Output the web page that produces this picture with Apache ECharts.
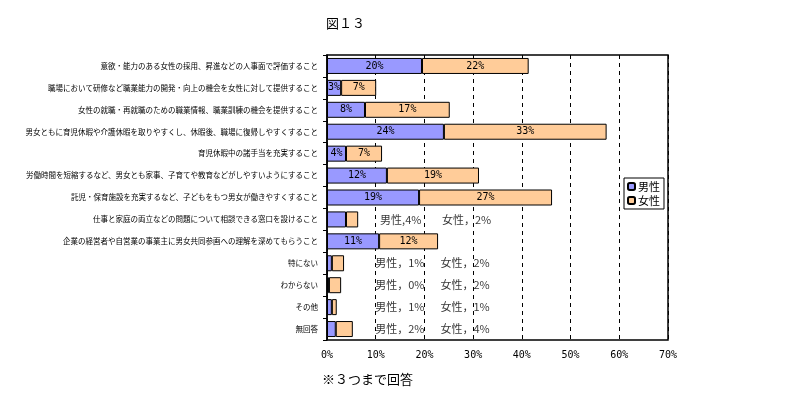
<!DOCTYPE html>
<html>
<head>
<meta charset="utf-8">
<script src="https://cdn.jsdelivr.net/npm/echarts@6/dist/echarts.min.js"></script>
<style>
  html, body { margin: 0; padding: 0; background: #fff; }
  #chart { width: 809px; height: 397px; }
</style>
</head>
<body>
<div id="chart"></div>
<script>
// categories (top to bottom)
const categories = [
  "意欲・能力のある女性の採用、昇進などの人事面で評価すること",
  "職場において研修など職業能力の開発・向上の機会を女性に対して提供すること",
  "女性の就職・再就職のための職業情報、職業訓練の機会を提供すること",
  "男女ともに育児休暇や介護休暇を取りやすくし、休暇後、職場に復帰しやすくすること",
  "育児休暇中の諸手当を充実すること",
  "労働時間を短縮するなど、男女とも家事、子育てや教育などがしやすいようにすること",
  "託児・保育施設を充実するなど、子どもをもつ男女が働きやすくすること",
  "仕事と家庭の両立などの問題について相談できる窓口を設けること",
  "企業の経営者や自営業の事業主に男女共同参画への理解を深めてもらうこと",
  "特にない",
  "わからない",
  "その他",
  "無回答"
];
const maleValues   = [19.5, 2.9, 7.8, 24.0, 3.9, 12.3, 18.9, 3.9, 10.7, 1.0, 0.4, 1.0, 1.8];
const femaleValues = [21.9, 7.2, 17.4, 33.4, 7.4, 18.9, 27.3, 2.5, 12.1, 2.5, 2.5, 1.0, 3.5];
// labels printed inside the bars (null = printed beside the bars instead)
const maleLabels   = ["20%", "3%", "8%", "24%", "4%", "12%", "19%", null, "11%", null, null, null, null];
const femaleLabels = ["22%", "7%", "17%", "33%", "7%", "19%", "27%", null, "12%", null, null, null, null];
// labels printed beside small bars
const sideMaleText   = [null, null, null, null, null, null, null, "男性,4%", null, "男性，1%", "男性，0%", "男性，1%", "男性，2%"];
const sideFemaleText = [null, null, null, null, null, null, null, "女性，2%", null, "女性，2%", "女性，2%", "女性，1%", "女性，4%"];
const xTicks = [0, 10, 20, 30, 40, 50, 60, 70];

const MALE = "#9999ff";
const FEMALE = "#ffcc99";
const monoFont = "'DejaVu Sans Mono', monospace";
const jpFont = "'Noto Sans CJK JP', sans-serif";

const chart = echarts.init(document.getElementById("chart"));

const barLabel = (labels) => ({
  show: true,
  position: "inside",
  color: "#000",
  fontFamily: monoFont,
  fontSize: 10,
  formatter: (p) => labels[p.dataIndex] || ""
});

const sidePoints = (texts, x, xRow8) =>
  texts.map((t, i) => (t ? { value: [i === 7 ? xRow8 : x, categories[i]], text: t } : null))
       .filter(Boolean);

chart.setOption({
  animation: false,
  title: [
    { text: "図１３", left: 321, top: 12, textStyle: { fontFamily: jpFont, fontSize: 13, fontWeight: "normal", color: "#000" } },
    { text: "※３つまで回答", left: 317, top: 368, textStyle: { fontFamily: jpFont, fontSize: 13, fontWeight: "normal", color: "#000" } }
  ],
  legend: {
    data: ["男性", "女性"],
    orient: "vertical",
    left: 624,
    top: 178,
    padding: [3, 4, 3, 3],
    itemGap: 3,
    itemWidth: 7,
    itemHeight: 7,
    borderColor: "#000",
    borderWidth: 1,
    backgroundColor: "#fff",
    textStyle: { fontFamily: jpFont, fontSize: 11, color: "#000", padding: [0, 0, 0, -2] }
  },
  grid: { left: 327, right: 141, top: 55, bottom: 57, show: true, borderColor: "#000", borderWidth: 1.5 },
  xAxis: {
    type: "value",
    min: 0,
    max: 70,
    interval: 10,
    axisLine: { show: false },
    axisTick: { show: false },
    splitLine: { show: true, lineStyle: { color: "#000", type: [4, 4], width: 1 } },
    axisLabel: {
      color: "#000",
      fontFamily: monoFont,
      fontSize: 10,
      margin: 10,
      formatter: (v) => (xTicks.includes(v) ? v + "%" : "")
    }
  },
  yAxis: {
    type: "category",
    data: categories,
    inverse: true,
    axisLine: { show: true, lineStyle: { color: "#000", width: 1.5 } },
    axisTick: { show: true, length: 4, lineStyle: { color: "#000" } },
    axisLabel: { color: "#000", fontFamily: jpFont, fontSize: 7.5, margin: 9 }
  },
  series: [
    {
      name: "男性",
      type: "bar",
      stack: "total",
      data: maleValues,
      barWidth: 16,
      itemStyle: { color: MALE, borderColor: "#000", borderWidth: 1 },
      label: barLabel(maleLabels)
    },
    {
      name: "女性",
      type: "bar",
      stack: "total",
      data: femaleValues,
      barWidth: 16,
      itemStyle: { color: FEMALE, borderColor: "#000", borderWidth: 1 },
      label: barLabel(femaleLabels)
    },
    {
      type: "scatter",
      symbolSize: 0,
      silent: true,
      data: sidePoints(sideMaleText, 9.9, 10.9).concat(sidePoints(sideFemaleText, 23.3, 23.6)),
      label: {
        show: true,
        position: "right",
        distance: 0,
        color: "#000",
        fontFamily: jpFont,
        fontSize: 11,
        formatter: (p) => p.data.text
      }
    }
  ]
});
</script>
</body>
</html>
